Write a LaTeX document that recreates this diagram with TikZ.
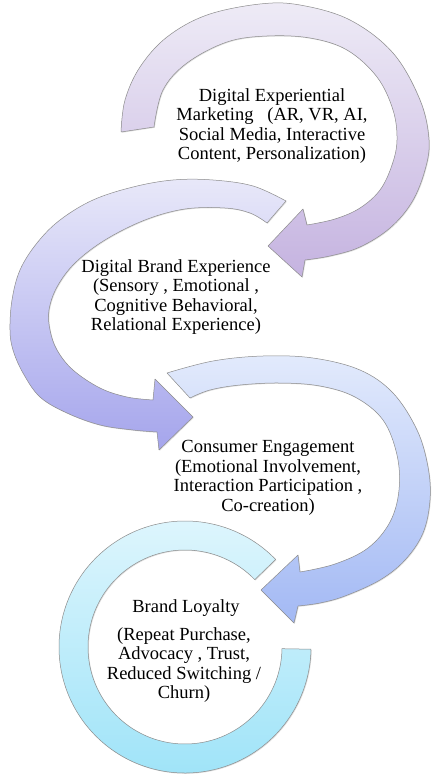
\documentclass[tikz,border=0pt]{standalone}
\usepackage{fontspec}
\setmainfont{Liberation Serif}
\usetikzlibrary{shadows}
\definecolor{cAtop}{HTML}{EEEBF6}
\definecolor{cAbot}{HTML}{C5B3E0}
\definecolor{cBtop}{HTML}{E8E8F9}
\definecolor{cBbot}{HTML}{A5A5EC}
\definecolor{cCtop}{HTML}{E2EAFC}
\definecolor{cCbot}{HTML}{A3B9F4}
\definecolor{cDtop}{HTML}{E0F6FD}
\definecolor{cDbot}{HTML}{9DE3F8}
\begin{document}
\begin{tikzpicture}[x=1pt,y=-1pt,
  arrowshape/.style={draw=black!45, line width=0.5pt, line join=round,
    drop shadow={opacity=0.25, shadow xshift=0.8pt, shadow yshift=-0.8pt}},
  lbl/.style={align=center, inner sep=0pt, font=\fontsize{18.5}{19.5}\selectfont}]
\fill[white] (0,0) rectangle (431,778);
\useasboundingbox (0,0) rectangle (431,778);

% arrow 1
\path[arrowshape, top color=cAtop, bottom color=cAbot]
 (121,132) -- plot[smooth, tension=0.6] coordinates {(121,132) (125,100) (140,67) (167,37) (207,15) (260,4) (300,5) (350,20) (393,53) (420,100) (429,140) (425,170) (412,202) (390,228) (360,247) (330,256) (305,260)}
 -- (302,277) -- (268,246) -- (303,209) -- (307,225)
 -- plot[smooth, tension=0.6] coordinates {(307,225) (335,219) (360,208) (380,190) (392,165) (397,140) (393,110) (377,77) (347,50) (310,38) (267,36) (227,42) (187,63) (163,90) (154,127)}
 -- cycle;

% arrow 2
\path[arrowshape, top color=cBtop, bottom color=cBbot]
 (286,201) -- plot[smooth, tension=0.6] coordinates {(286,201) (253,186) (213,180) (173,180) (133,187) (93,200) (60,220) (37,243) (20,270) (12,300) (10,330) (13,350) (23,373) (40,397) (67,413) (100,425) (133,430) (157,432)}
 -- (159,450) -- (193,417) -- (155,379) -- (153,400)
 -- plot[smooth, tension=0.6] coordinates {(153,400) (127,397) (100,388) (73,370) (57,350) (50,330) (49,310) (57,287) (75,263) (105,240) (145,220) (185,209) (225,208) (250,213) (267,223)}
 -- cycle;

% arrow 3
\path[arrowshape, top color=cCtop, bottom color=cCbot]
 (167,373) -- plot[smooth, tension=0.6] coordinates {(167,373) (213,361) (263,356) (313,358) (360,370) (393,393) (417,430) (428,467) (430,500) (423,533) (405,560) (380,580) (345,596) (320,603) (298,606)}
 -- (294,623) -- (261,590) -- (298,555) -- (300,572)
 -- plot[smooth, tension=0.6] coordinates {(300,572) (335,564) (368,548) (390,522) (399,490) (397,455) (383,420) (355,397) (320,386) (280,383) (240,385) (210,390) (190,398)}
 -- cycle;

% arrow 4 (ring)
\path[arrowshape, top color=cDtop, bottom color=cDbot]
 (185,647) ++(44:126pt) arc[start angle=44, end angle=359, radius=126pt]
 -- ++(179:29pt) arc[start angle=359, end angle=44, radius=97pt] -- cycle;

\node[lbl] (t1) at (272,126) {Digital Experiential\\Marketing\ \ \ (AR, VR, AI,\\Social Media, Interactive\\Content, Personalization)};
\node[lbl] (t2) at (176,297) {Digital Brand Experience\\(Sensory , Emotional ,\\Cognitive Behavioral,\\Relational Experience)};
\node[lbl] (t3) at (268,478) {Consumer Engagement\\(Emotional Involvement,\\Interaction Participation ,\\Co-creation)};
\node[lbl] (t4) at (186,608) {Brand Loyalty};
\node[lbl] (t5) at (184,665) {(Repeat Purchase,\\Advocacy , Trust,\\Reduced Switching /\\Churn)};
\end{tikzpicture}
\end{document}
